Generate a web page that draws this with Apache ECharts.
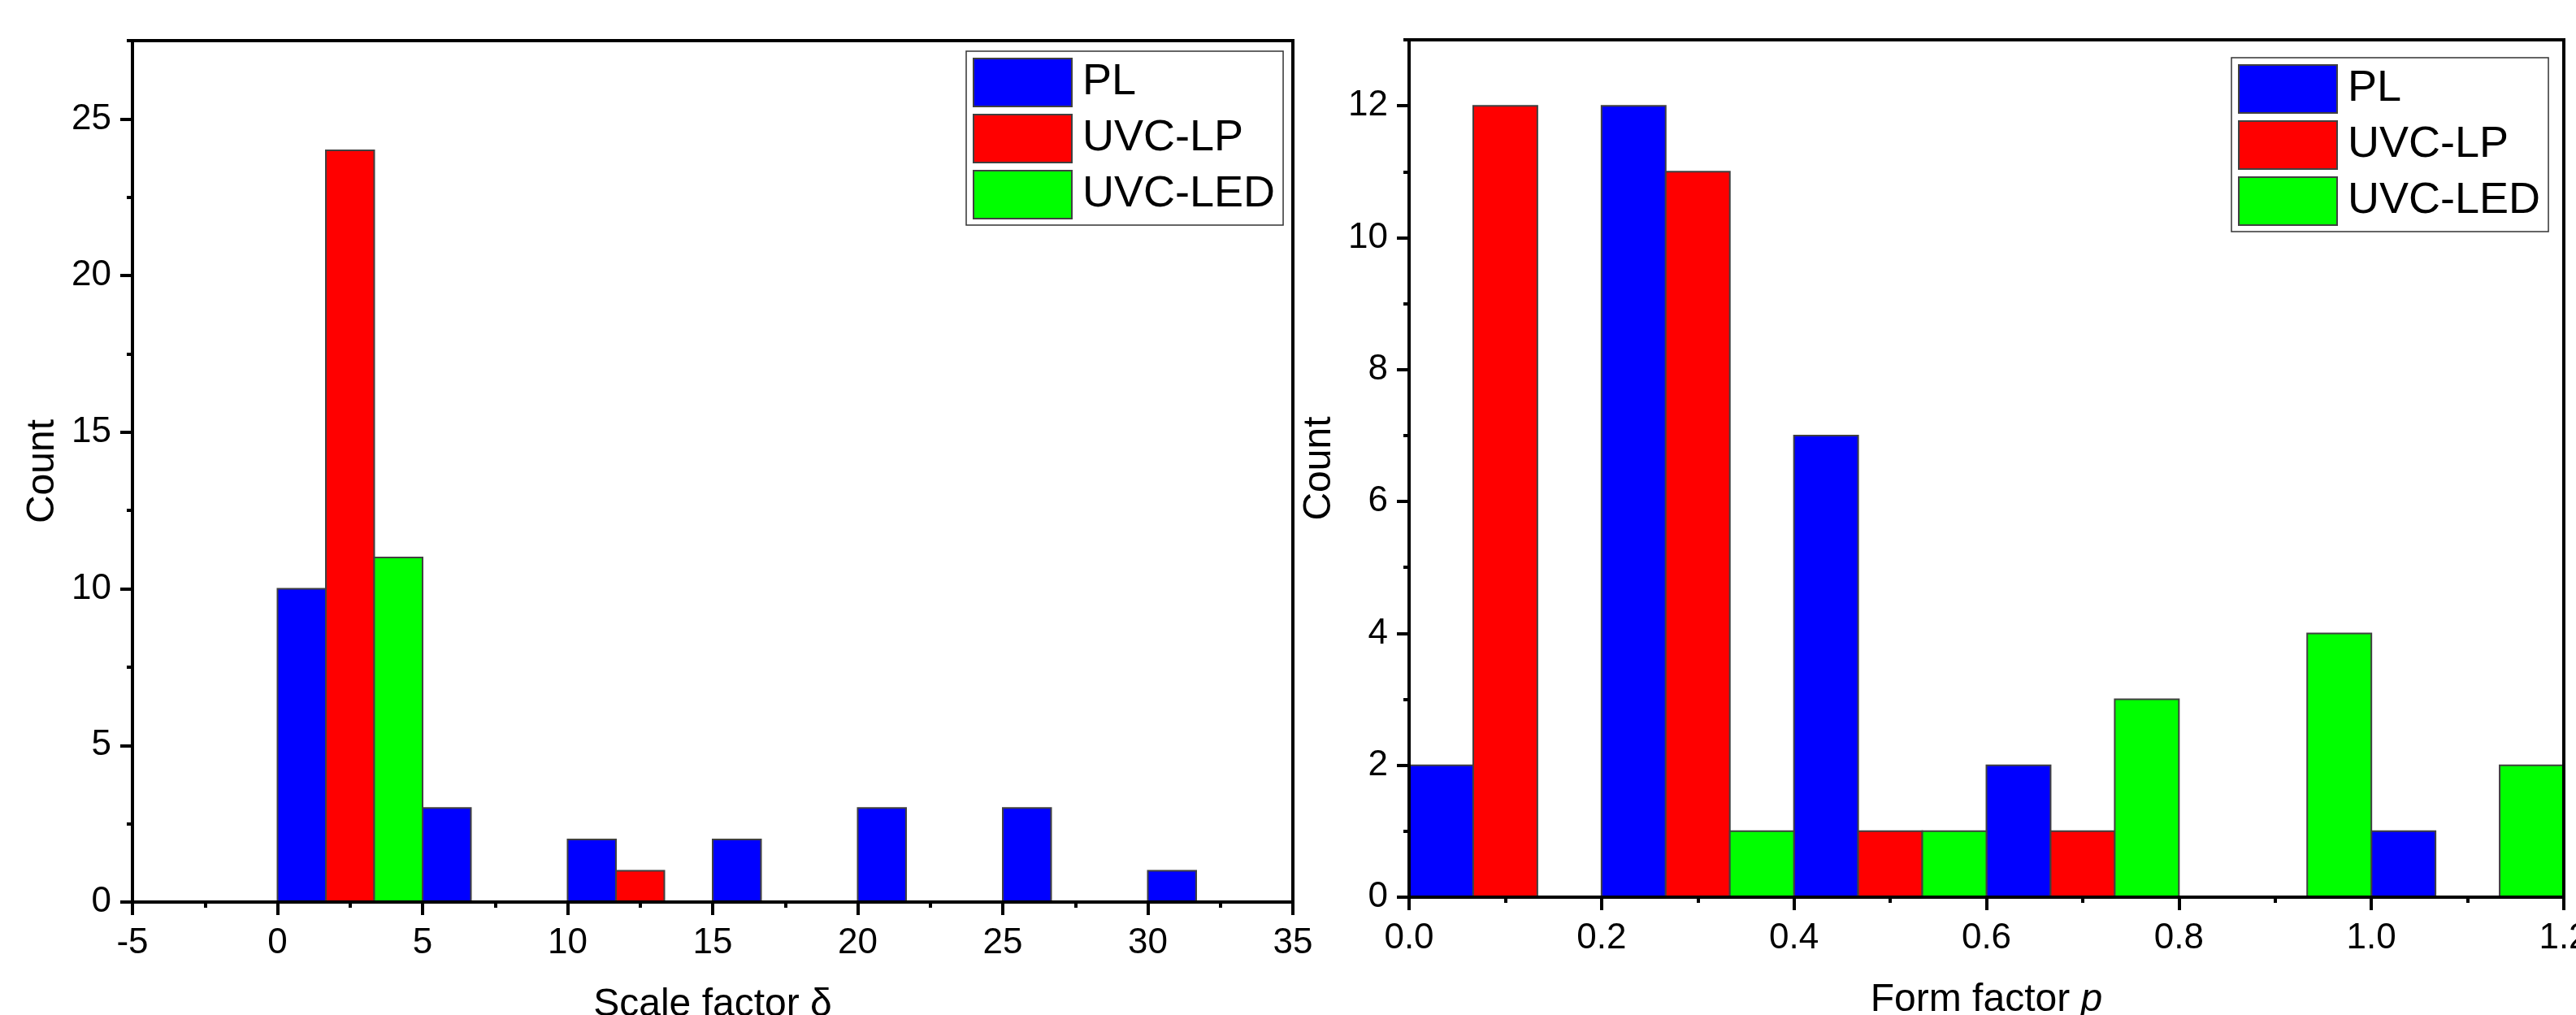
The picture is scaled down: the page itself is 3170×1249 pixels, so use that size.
<!DOCTYPE html>
<html>
<head>
<meta charset="utf-8">
<script src="https://cdn.jsdelivr.net/npm/echarts@6/dist/echarts.min.js"></script>
<style>
html,body{margin:0;padding:0;background:#fff;}
#chart{width:3170px;height:1249px;}
</style>
</head>
<body>
<div id="chart"></div>
<script>
// ---------- data ----------
const seriesNames = ['PL', 'UVC-LP', 'UVC-LED'];
const seriesColors = ['#0000FF', '#FF0000', '#00FF00'];

// Left panel: Scale factor δ histogram (bin width 5)
const leftBinStarts = [0, 5, 10, 15, 20, 25, 30];
const leftBinWidth = 5;
const leftPL = [10, 3, 2, 2, 3, 3, 1];
const leftLP = [24, 0, 1, 0, 0, 0, 0];
const leftLED = [11, 0, 0, 0, 0, 0, 0];
const leftXTicks = [-5, 0, 5, 10, 15, 20, 25, 30, 35];
const leftYTicks = [0, 5, 10, 15, 20, 25];

// Right panel: Form factor p histogram (bin width 0.2)
const rightBinStarts = [0, 0.2, 0.4, 0.6, 0.8, 1.0];
const rightBinWidth = 0.2;
const rightPL = [2, 12, 7, 2, 0, 1];
const rightLP = [12, 11, 1, 1, 0, 0];
const rightLED = [0, 1, 1, 3, 4, 2];
const rightXTicks = [0, 0.2, 0.4, 0.6, 0.8, 1.0, 1.2];
const rightYTicks = [0, 2, 4, 6, 8, 10, 12];

// ---------- helpers ----------
function binData(starts, width, counts, k) {
  return starts.map((s, i) => [s + k * width / 3, s + (k + 1) * width / 3, counts[i]]);
}
function renderBar(color) {
  return function (params, api) {
    const p0 = api.coord([api.value(0), api.value(2)]);
    const p1 = api.coord([api.value(1), 0]);
    return {
      type: 'rect',
      shape: { x: p0[0], y: p0[1], width: p1[0] - p0[0], height: p1[1] - p0[1] },
      style: { fill: color, stroke: '#404040', lineWidth: 2 }
    };
  };
}
const FONT = 'Liberation Sans, Arial, sans-serif';

function mainX(idx, min, max, interval, name, fmt, rich) {
  return {
    gridIndex: idx, type: 'value', min: min, max: max, interval: interval,
    position: 'bottom', z: 5,
    name: name, nameLocation: 'middle', nameGap: 103,
    nameTextStyle: { fontSize: 48, color: '#000', fontFamily: FONT, rich: rich },
    axisLine: { show: true, onZero: false, lineStyle: { color: '#000', width: 4 } },
    axisTick: { show: true, length: 16, inside: false, lineStyle: { color: '#000', width: 4 } },
    minorTick: { show: true, splitNumber: 2, length: 7, lineStyle: { color: '#000', width: 4 } },
    axisLabel: { fontSize: 44, color: '#000', fontFamily: FONT, margin: 29, formatter: fmt, hideOverlap: false },
    splitLine: { show: false }, minorSplitLine: { show: false }
  };
}
function mainY(idx, max, interval, ticks) {
  return {
    gridIndex: idx, type: 'value', min: 0, max: max, interval: interval,
    position: 'left', z: 5,
    name: 'Count', nameLocation: 'middle', nameGap: 86,
    nameTextStyle: { fontSize: 48, color: '#000', fontFamily: FONT },
    axisLine: { show: true, onZero: false, lineStyle: { color: '#000', width: 4 } },
    axisTick: { show: true, length: 15, customValues: ticks, lineStyle: { color: '#000', width: 4 } },
    axisLabel: { fontSize: 44, color: '#000', fontFamily: FONT, margin: 26, customValues: ticks },
    splitLine: { show: false }
  };
}
function minorY(idx, max, interval) {
  return {
    gridIndex: idx, type: 'value', min: 0, max: max, interval: interval,
    position: 'left', z: 4,
    axisLine: { show: false, onZero: false },
    axisTick: { show: true, length: 7, lineStyle: { color: '#000', width: 4 } },
    axisLabel: { show: false },
    splitLine: { show: false }
  };
}
function makeSeries(xi, yi, starts, width, lists) {
  return lists.map((counts, k) => ({
    name: seriesNames[k],
    type: 'custom',
    coordinateSystem: 'cartesian2d',
    xAxisIndex: xi, yAxisIndex: yi,
    itemStyle: { color: seriesColors[k], borderColor: '#404040', borderWidth: 2 },
    encode: { x: [0, 1], y: 2 },
    renderItem: renderBar(seriesColors[k]),
    data: binData(starts, width, counts, k),
    z: 2
  }));
}
function legend(left, top) {
  return {
    orient: 'vertical', left: left, top: top, icon: 'rect',
    itemWidth: 121, itemHeight: 59, itemGap: 8,
    padding: [8, 10, 7, 8],
    borderColor: '#333', borderWidth: 1.5, backgroundColor: '#fff',
    selectedMode: false,
    itemStyle: { borderColor: '#404040', borderWidth: 2 },
    textStyle: { fontSize: 54, lineHeight: 59, color: '#000', fontFamily: FONT, padding: [0, 0, 0, 8] },
    data: seriesNames
  };
}

const chart = echarts.init(document.getElementById('chart'), null, { renderer: 'canvas' });
chart.setOption({
  animation: false,
  backgroundColor: '#fff',
  grid: [
    { left: 163, top: 50, width: 1428, height: 1060, outerBoundsMode: 'none', containLabel: false,
      show: true, borderColor: '#000', borderWidth: 4, backgroundColor: 'transparent', z: 6 },
    { left: 1734, top: 49, width: 1421, height: 1055, outerBoundsMode: 'none', containLabel: false,
      show: true, borderColor: '#000', borderWidth: 4, backgroundColor: 'transparent', z: 6 }
  ],
  legend: [legend(1189, 63), legend(2746, 71)],
  xAxis: [
    mainX(0, leftXTicks[0], leftXTicks[leftXTicks.length - 1], 5, 'Scale factor δ', v => String(v)),
    mainX(1, rightXTicks[0], rightXTicks[rightXTicks.length - 1], 0.2, 'Form factor {i|p}', v => v.toFixed(1),
      { i: { fontSize: 48, fontStyle: 'italic', color: '#000', fontFamily: FONT } })
  ],
  yAxis: [
    mainY(0, 27.5, 5, leftYTicks),
    minorY(0, 27.5, 2.5),
    mainY(1, 13, 2, rightYTicks),
    minorY(1, 13, 1)
  ],
  series: [].concat(
    makeSeries(0, 0, leftBinStarts, leftBinWidth, [leftPL, leftLP, leftLED]),
    makeSeries(1, 2, rightBinStarts, rightBinWidth, [rightPL, rightLP, rightLED])
  )
});
</script>
</body>
</html>
